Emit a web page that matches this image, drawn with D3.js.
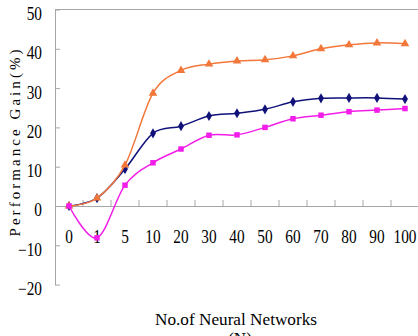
<!DOCTYPE html>
<html>
<head>
<meta charset="utf-8">
<title>Performance Gain</title>
<script src="https://d3js.org/d3.v7.min.js"></script>
<style>
  body { margin: 0; background: #fff; }
  text { font-family: "Liberation Serif", "DejaVu Serif", serif; fill: #000; }
</style>
</head>
<body>
<script>
// categories (No. of neural networks) and the three series
var categories = ["0", "1", "5", "10", "20", "30", "40", "50", "60", "70", "80", "90", "100"];
var orangeVals = [0, 2, 10.4, 28.7, 34.5, 36.1, 36.9, 37.2, 38.2, 40, 41, 41.5, 41.3];
var navyVals   = [0, 2, 9.4, 18.5, 20.3, 22.9, 23.6, 24.6, 26.5, 27.4, 27.5, 27.5, 27.2];
var pinkVals   = [0, -8.1, 5.3, 11, 14.5, 18, 18.1, 20, 22.2, 23.1, 24, 24.4, 24.8];
var yTicks = [-20, -10, 0, 10, 20, 30, 40, 50];

var W = 418, H = 336;
var plotL = 55, plotR = 419, plotT = 9.5, plotB = 284.6;

var svg = d3.select("body").append("svg")
  .attr("width", W)
  .attr("height", H);

var x = d3.scaleBand()
  .domain(categories)
  .range([plotL, plotR]);

var y = d3.scaleLinear()
  .domain([-20, 50])
  .range([plotB, plotT]);

var axisColor = "#a6a6a6";

// top border
svg.append("line")
  .attr("x1", plotL).attr("x2", plotR)
  .attr("y1", y(50)).attr("y2", y(50))
  .attr("stroke", axisColor);

// y axis (ticks point inward)
var yAxis = svg.append("g")
  .attr("transform", "translate(" + plotL + ",0)")
  .call(d3.axisLeft(y).tickValues(yTicks).tickSizeInner(-5).tickSizeOuter(0).tickPadding(13)
    .tickFormat(function(d) { return d < 0 ? "\u2212" + Math.abs(d) : d; }));
yAxis.select(".domain").attr("stroke", axisColor);
yAxis.selectAll(".tick line").attr("stroke", axisColor);
yAxis.selectAll(".tick text")
  .attr("font-size", 18)
  .attr("dy", "0.55em")
  .attr("transform", "scale(0.85,1)")
  .attr("x", -13 / 0.85);

// x axis along zero
var xAxis = svg.append("g")
  .attr("transform", "translate(0," + y(0) + ")")
  .call(d3.axisBottom(x).tickSize(0).tickPadding(24));
xAxis.select(".domain").attr("stroke", axisColor);
xAxis.selectAll(".tick text")
  .attr("font-size", 18)
  .attr("transform", "scale(0.85,1)");

// boundary ticks pointing up
svg.append("g").selectAll("line")
  .data(categories.slice(1))
  .join("line")
  .attr("x1", function(d) { return x(d); })
  .attr("x2", function(d) { return x(d); })
  .attr("y1", y(0))
  .attr("y2", y(0) - 6)
  .attr("stroke", axisColor);

var series = [
  {vals: navyVals, color: "#10127a", symbol: d3.symbolDiamond, size: 30},
  {vals: orangeVals, color: "#f2773a", symbol: d3.symbolTriangle, size: 32},
  {vals: pinkVals, color: "#f21de8", symbol: d3.symbolSquare, size: 30}
];

var line = d3.line()
  .x(function(d, i) { return x(categories[i]) + x.bandwidth() / 2; })
  .y(function(d) { return y(d); })
  .curve(d3.curveCatmullRom.alpha(0));

series.forEach(function(s) {
  svg.append("path")
    .datum(s.vals)
    .attr("fill", "none")
    .attr("stroke", s.color)
    .attr("stroke-width", 1.5)
    .attr("d", line);

  svg.append("g").selectAll("path")
    .data(s.vals)
    .join("path")
    .attr("transform", function(d, i) {
      return "translate(" + (x(categories[i]) + x.bandwidth() / 2) + "," + y(d) + ")";
    })
    .attr("d", d3.symbol().type(s.symbol).size(s.size))
    .attr("fill", s.color);
});

// axis titles
svg.append("text")
  .attr("transform", "translate(15,143) rotate(-90)")
  .attr("text-anchor", "middle")
  .attr("dominant-baseline", "central")
  .attr("font-size", 15)
  .attr("textLength", 187)
  .attr("lengthAdjust", "spacing")
  .text("Performance Gain(%)");

svg.append("text")
  .attr("x", 236)
  .attr("y", 325)
  .attr("text-anchor", "middle")
  .attr("font-size", 17)
  .attr("textLength", 162)
  .attr("lengthAdjust", "spacingAndGlyphs")
  .text("No.of Neural Networks");

svg.append("text")
  .attr("x", 240)
  .attr("y", 344)
  .attr("text-anchor", "middle")
  .attr("font-size", 17)
  .text("(N)");
</script>
</body>
</html>
